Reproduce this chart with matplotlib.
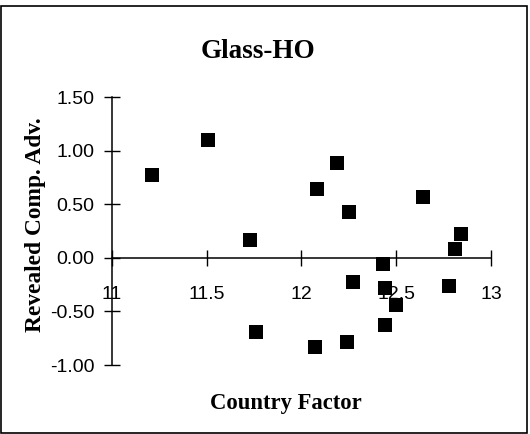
import matplotlib
matplotlib.use("Agg")
import matplotlib.pyplot as plt
from matplotlib.patches import Rectangle

# Data
country_factor = [11.21, 11.51, 11.73, 11.76, 12.08, 12.07, 12.19, 12.25, 12.24,
                  12.27, 12.43, 12.44, 12.50, 12.44, 12.64, 12.78, 12.81, 12.84]
rca = [0.77, 1.10, 0.17, -0.69, 0.64, -0.83, 0.88, 0.43, -0.79,
       -0.23, -0.06, -0.28, -0.44, -0.63, 0.57, -0.26, 0.08, 0.22]
x_ticks = [11, 11.5, 12, 12.5, 13]
x_tick_labels = ["11", "11.5", "12", "12.5", "13"]
y_ticks = [-1.0, -0.5, 0.0, 0.5, 1.0, 1.5]
y_tick_labels = ["-1.00", "-0.50", "0.00", "0.50", "1.00", "1.50"]

W, H = 530, 434
fig = plt.figure(figsize=(W / 100, H / 100), dpi=100)
fig.patch.set_facecolor("white")

# outer frame
fig.add_artist(Rectangle((1 / W, 1 / H), 526 / W, 427 / H, transform=fig.transFigure,
                         fill=False, edgecolor="black", linewidth=1.2))

left, right = 111.7 / W, 491 / W
bottom, top = (H - 365) / H, (H - 97) / H
ax = fig.add_axes([left, bottom, right - left, top - bottom])

ax.scatter(country_factor, rca, marker="s", s=9.4 ** 2, color="black", linewidths=0, zorder=3)

ax.set_xlim(11, 13)
ax.set_ylim(-1.0, 1.5)

ax.spines["top"].set_visible(False)
ax.spines["right"].set_visible(False)
ax.spines["bottom"].set_position(("data", 0))
for s in ("left", "bottom"):
    ax.spines[s].set_linewidth(1.1)
    ax.spines[s].set_color("black")

tick_font = "Liberation Sans"
ax.set_xticks(x_ticks)
ax.set_xticklabels(x_tick_labels, fontsize=14, family=tick_font)
ax.set_yticks(y_ticks)
ax.set_yticklabels(y_tick_labels, fontsize=14, family=tick_font)
ax.tick_params(axis="x", direction="inout", length=11, width=1.0, pad=15)
ax.tick_params(axis="y", direction="inout", length=11, width=1.0, pad=7)
ax.set_facecolor("none")

fig.text(258 / W, 1 - 52 / H, "Glass-HO", ha="center", va="center",
         fontsize=19.5, fontweight="bold", family="Liberation Serif")
fig.text(286 / W, 1 - 403 / H, "Country Factor", ha="center", va="center",
         fontsize=16.3, fontweight="bold", family="Liberation Serif")
fig.text(36 / W, 1 - 225 / H, "Revealed Comp. Adv.", ha="center", va="center",
         rotation=90, fontsize=16.8, fontweight="bold", family="Liberation Serif")

fig.savefig("out.png", dpi=100)
